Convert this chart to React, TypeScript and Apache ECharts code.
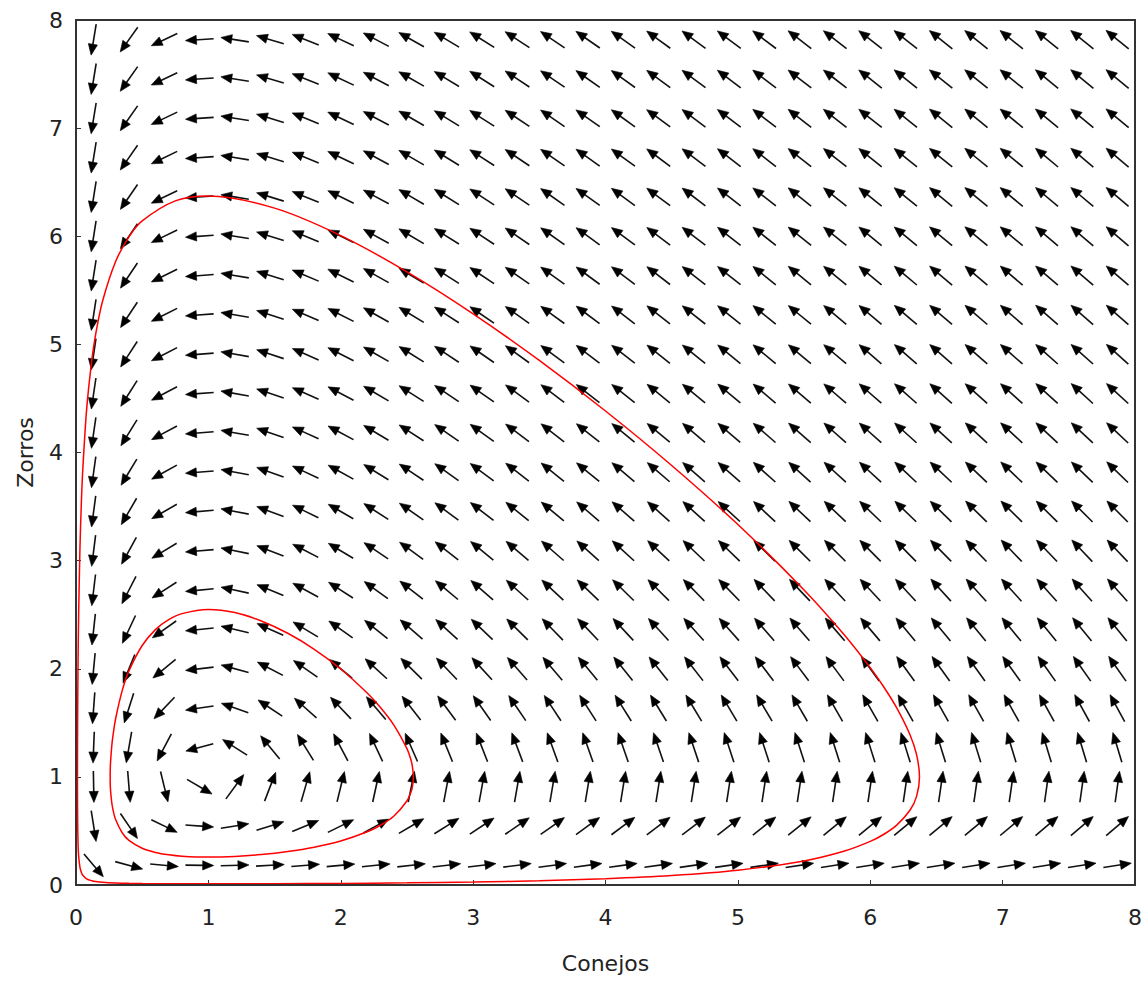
import React, { useEffect, useRef } from "react";
import * as echarts from "echarts";

// Axis ticks
const xTicks = [0, 1, 2, 3, 4, 5, 6, 7, 8];
const yTicks = [0, 1, 2, 3, 4, 5, 6, 7, 8];

// Lotka–Volterra model parameters: dx/dt = a x - b x y, dy/dt = -c y + d x y
const lvParams = [1, 1, 1, 1];
// direction-field sampling (columns, rows)
const fieldGrid = [30, 22];

// Inner closed orbit
const innerOrbitX = [
  0.258, 0.26, 0.27, 0.28, 0.3, 0.35, 0.4, 0.5, 0.6, 0.7, 0.8, 1.0, 1.2, 1.4, 1.6, 1.8, 2.0, 2.2, 2.3, 2.4, 2.5, 2.53, 2.54, 2.549,
  2.54, 2.53, 2.5, 2.4, 2.3, 2.2, 2.0, 1.8, 1.6, 1.4, 1.2, 1.0, 0.8, 0.7, 0.6, 0.5, 0.4, 0.35, 0.3, 0.28, 0.27, 0.26, 0.258,
];
const innerOrbitY = [
  1.0, 0.894, 0.763, 0.693, 0.603, 0.481, 0.413, 0.3395, 0.301, 0.279, 0.2662, 0.258, 0.2643, 0.281, 0.309, 0.3495, 0.407, 0.492, 0.5525, 0.636, 0.777, 0.858, 0.901, 1.0,
  1.105, 1.159, 1.261, 1.481, 1.641, 1.775, 1.998, 2.18, 2.328, 2.442, 2.52, 2.549, 2.51, 2.454, 2.362, 2.215, 1.98, 1.802, 1.542, 1.388, 1.283, 1.113, 1.0,
];

// Outer closed orbit
const outerOrbitX = [
  0.011, 0.012, 0.015, 0.02, 0.03, 0.04, 0.05, 0.08, 0.12, 0.15, 0.2, 0.3, 0.4, 0.5, 0.75, 1.0, 1.5, 2.0, 2.5, 3.0, 3.5, 4.0, 4.5, 5.0, 5.5, 5.8, 6.0, 6.1, 6.2, 6.3, 6.35, 6.372,
  6.35, 6.3, 6.2, 6.1, 6.0, 5.8, 5.5, 5.0, 4.5, 4.0, 3.5, 3.0, 2.5, 2.0, 1.5, 1.0, 0.75, 0.5, 0.4, 0.3, 0.2, 0.15, 0.12, 0.08, 0.05, 0.04, 0.03, 0.02, 0.015, 0.012, 0.011,
];
const outerOrbitY = [
  1.0, 0.642, 0.4075, 0.267, 0.162, 0.1172, 0.0924, 0.0575, 0.0392, 0.032, 0.0251, 0.0184, 0.0152, 0.0134, 0.0114, 0.011, 0.0121, 0.015, 0.0199, 0.0276, 0.0394, 0.058, 0.0875, 0.1362, 0.2226, 0.3115, 0.403, 0.467, 0.554, 0.691, 0.82, 1.0,
  1.205, 1.39, 1.638, 1.8355, 2.01, 2.319, 2.729, 3.334, 3.88, 4.384, 4.852, 5.283, 5.671, 6.006, 6.26, 6.372, 6.327, 6.142, 5.995, 5.768, 5.396, 5.103, 4.861, 4.394, 3.813, 3.519, 3.122, 2.507, 1.997, 1.471, 1.0,
];

const AX_MIN = 0;
const AX_MAX = 8;

function buildField(): number[][] {
  const [a, b, c, d] = lvParams;
  const [cols, rows] = fieldGrid;
  const cw = (AX_MAX - AX_MIN) / cols;
  const ch = (AX_MAX - AX_MIN) / rows;
  const k = 0.8;
  const out: number[][] = [];
  for (let i = 0; i < cols; i++) {
    for (let j = 0; j < rows; j++) {
      const x = AX_MIN + (i + 0.5) * cw;
      const y = AX_MIN + (j + 0.5) * ch;
      const f = a * x - b * x * y;
      const g = -c * y + d * x * y;
      const u = f / cw;
      const v = g / ch;
      const n = Math.hypot(u, v);
      if (n === 0) continue;
      const hx = 0.5 * k * (u / n) * cw;
      const hy = 0.5 * k * (v / n) * ch;
      out.push([x - hx, y - hy, x + hx, y + hy]);
    }
  }
  return out;
}

const zip = (xs: number[], ys: number[]) => xs.map((x, i) => [x, ys[i]]);

const FONT = "DejaVu Sans";
const TEXT = "#222";

export default function App() {
  const ref = useRef<HTMLDivElement>(null);
  useEffect(() => {
    if (!ref.current) return;
    const chart = echarts.init(ref.current, undefined, { renderer: "svg" });
    const field = buildField();
    const axisCommon = {
      type: "value" as const,
      min: xTicks[0],
      max: xTicks[xTicks.length - 1],
      interval: 1,
      splitLine: { show: false },
      axisLine: { show: false },
      axisTick: { show: true, inside: true, length: 5, lineStyle: { color: "#333", width: 1 } },
      axisLabel: { fontSize: 22, color: TEXT, fontFamily: FONT },
      nameLocation: "middle" as const,
      nameTextStyle: { fontSize: 22, color: TEXT, fontFamily: FONT },
    };
    chart.setOption({
      animation: false,
      backgroundColor: "#fff",
      grid: {
        left: 76,
        top: 20,
        width: 1062,
        height: 865,
        show: true,
        borderColor: "#333",
        borderWidth: 2,
        backgroundColor: "transparent",
        z: 10,
      },
      xAxis: {
        ...axisCommon,
        min: xTicks[0],
        max: xTicks[xTicks.length - 1],
        name: "Conejos",
        nameGap: 67,
        axisLabel: { ...axisCommon.axisLabel, margin: 21 },
      },
      yAxis: {
        ...axisCommon,
        min: yTicks[0],
        max: yTicks[yTicks.length - 1],
        name: "Zorros",
        nameGap: 40,
        nameRotate: 90,
        axisLabel: { ...axisCommon.axisLabel, margin: 13 },
      },
      series: [
        {
          type: "custom",
          data: field,
          encode: { x: [0, 2], y: [1, 3] },
          silent: true,
          z: 2,
          renderItem: (_params: any, api: any) => {
            const p0 = api.coord([api.value(0), api.value(1)]);
            const p1 = api.coord([api.value(2), api.value(3)]);
            const dx = p1[0] - p0[0];
            const dy = p1[1] - p0[1];
            const len = Math.hypot(dx, dy) || 1;
            const ux = dx / len;
            const uy = dy / len;
            const hl = 11;
            const hw = 4.6;
            const bx = p1[0] - ux * hl;
            const by = p1[1] - uy * hl;
            return {
              type: "group",
              children: [
                {
                  type: "line",
                  shape: { x1: p0[0], y1: p0[1], x2: bx + ux * 2, y2: by + uy * 2 },
                  style: { stroke: "#111", lineWidth: 1.6 },
                },
                {
                  type: "polygon",
                  shape: {
                    points: [
                      [p1[0], p1[1]],
                      [bx - uy * hw, by + ux * hw],
                      [bx + uy * hw, by - ux * hw],
                    ],
                  },
                  style: { fill: "#000", stroke: "#000", lineWidth: 0.6 },
                },
              ],
            };
          },
        },
        {
          type: "line",
          data: zip(innerOrbitX, innerOrbitY),
          showSymbol: false,
          smooth: 0.3,
          lineStyle: { color: "#ff0000", width: 1.5 },
          z: 5,
          silent: true,
        },
        {
          type: "line",
          data: zip(outerOrbitX, outerOrbitY),
          showSymbol: false,
          smooth: 0.3,
          lineStyle: { color: "#ff0000", width: 1.5 },
          z: 5,
          silent: true,
        },
      ],
    });
    return () => chart.dispose();
  }, []);
  return (
    <div
      ref={ref}
      style={{ position: "absolute", left: 0, top: 0, width: 1145, height: 981 }}
    />
  );
}
